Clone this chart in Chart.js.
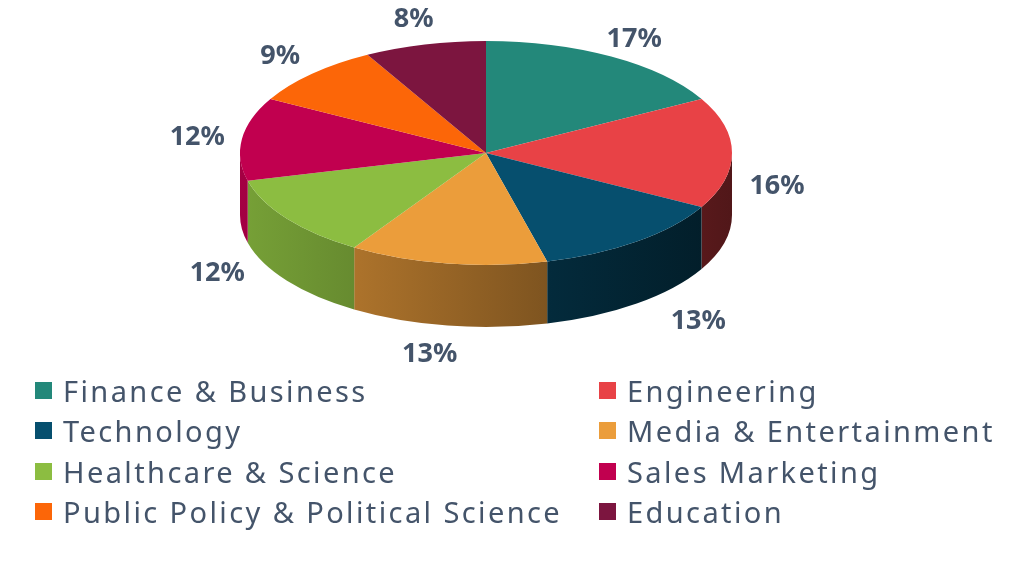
<!DOCTYPE html>
<html>
<head>
<meta charset="utf-8">
<title>Career fields</title>
<script src="https://cdn.jsdelivr.net/npm/chart.js@4.4.0/dist/chart.umd.min.js"></script>
<style>
  html, body { margin: 0; padding: 0; background: #fff; }
  #wrap { position: relative; width: 1024px; height: 570px; overflow: hidden; }
  #legend {
    position: absolute; left: 35px; top: 370px;
    display: grid; grid-template-columns: 564px auto;
    font-family: "Noto Sans", "Open Sans", sans-serif; font-size: 29px; color: #44546a;
    letter-spacing: 2.4px;
  }
  #legend .item { display: flex; align-items: center; height: 40.5px; white-space: nowrap; }
  #legend .box { width: 17px; height: 17px; margin-right: 11px; flex: none; }
</style>
</head>
<body>
<div id="wrap">
  <canvas id="chart" width="1024" height="570"></canvas>
  <div id="legend"></div>
</div>
<script>
const categories = [
  'Finance & Business', 'Engineering', 'Technology', 'Media & Entertainment',
  'Healthcare & Science', 'Sales Marketing', 'Public Policy & Political Science', 'Education'
];
const shares = [17, 16, 13, 13, 12, 12, 9, 8];
const sliceColors = ['#23887a', '#e84246', '#064f6e', '#eb9d3b', '#8cbd41', '#c1004f', '#fc6608', '#7c153f'];

// where the tilted pie sits on the page
const TILT = { cx: 486, cy: 153, rx: 246, ry: 112, depth: 62 };

function shade(hex, f) {
  const n = parseInt(hex.slice(1), 16);
  const r = Math.round(((n >> 16) & 255) * f);
  const g = Math.round(((n >> 8) & 255) * f);
  const b = Math.round((n & 255) * f);
  return `rgb(${r},${g},${b})`;
}

const pie3d = {
  id: 'pie3d',
  beforeDatasetsDraw(chart) {
    const ctx = chart.ctx;
    const arcs = chart.getDatasetMeta(0).data;
    const { cx, cy, rx, ry, depth } = TILT;

    // side wall, only the front half shows
    arcs.forEach((arc, i) => {
      const a1 = Math.max(arc.startAngle, 0);
      const a2 = Math.min(arc.endAngle, Math.PI);
      if (a2 <= a1) return;
      const g = ctx.createLinearGradient(cx - rx, 0, cx + rx, 0);
      g.addColorStop(0, shade(sliceColors[i], 0.85));
      g.addColorStop(1, shade(sliceColors[i], 0.35));
      ctx.beginPath();
      ctx.ellipse(cx, cy, rx, ry, 0, a1, a2, false);
      ctx.ellipse(cx, cy + depth, rx, ry, 0, a2, a1, true);
      ctx.closePath();
      ctx.fillStyle = g;
      ctx.fill();
    });

    // squash the round top into an ellipse; restored after the arcs draw
    const a = arcs[0];
    ctx.save();
    ctx.translate(cx, cy);
    ctx.scale(rx / a.outerRadius, ry / a.outerRadius);
    ctx.translate(-a.x, -a.y);
  },
  afterDatasetsDraw(chart) {
    const ctx = chart.ctx;
    ctx.restore();

    const arcs = chart.getDatasetMeta(0).data;
    const { cx, cy, rx, ry, depth } = TILT;
    const total = shares.reduce((s, v) => s + v, 0);
    ctx.save();
    ctx.font = 'bold 27px "Noto Sans", sans-serif';
    ctx.fillStyle = '#44546a';
    ctx.textAlign = 'center';
    ctx.textBaseline = 'middle';
    arcs.forEach((arc, i) => {
      const mid = (arc.startAngle + arc.endAngle) / 2;
      const ux = Math.cos(mid), uy = Math.sin(mid);
      const x = cx + (rx + 45 + 70 * Math.max(0, uy)) * ux;
      const drop = ux > 0 ? depth * (1 + uy) / 2 : depth * Math.max(0, uy);
      const y = cy + (ry + 28) * uy + drop + 2;
      ctx.fillText(Math.round(shares[i] / total * 100) + '%', x, y);
    });
    ctx.restore();
  }
};

const chart = new Chart(document.getElementById('chart'), {
  type: 'pie',
  data: {
    labels: categories,
    datasets: [{
      data: shares,
      backgroundColor: sliceColors,
      borderWidth: 0,
      hoverOffset: 0
    }]
  },
  options: {
    responsive: false,
    animation: false,
    events: [],
    plugins: {
      legend: { display: false },
      tooltip: { enabled: false }
    }
  },
  plugins: [pie3d]
});

// two-column legend like the original
const legendEl = document.getElementById('legend');
chart.data.labels.forEach((label, i) => {
  const item = document.createElement('div');
  item.className = 'item';
  const box = document.createElement('span');
  box.className = 'box';
  box.style.background = chart.data.datasets[0].backgroundColor[i];
  const text = document.createElement('span');
  text.textContent = label;
  item.appendChild(box);
  item.appendChild(text);
  legendEl.appendChild(item);
});
</script>
</body>
</html>
